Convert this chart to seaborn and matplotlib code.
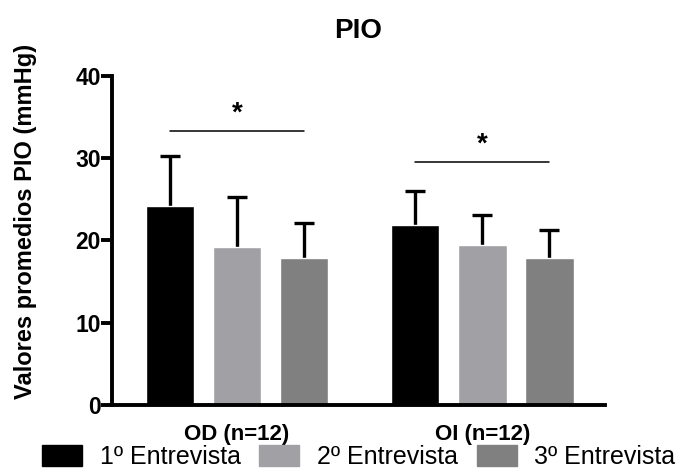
import matplotlib
matplotlib.use("Agg")
import matplotlib.pyplot as plt
import pandas as pd
import seaborn as sns

groups = ["OD (n=12)", "OI (n=12)"]
visits = ["1º Entrevista", "2º Entrevista", "3º Entrevista"]
means_od = [24.2, 19.2, 17.8]
means_oi = [21.9, 19.4, 17.8]
sd_od = [6.1, 6.0, 4.3]
sd_oi = [4.1, 3.7, 3.5]
sig_y = [33.3, 29.5]

palette = {
    "1º Entrevista": "#000000",
    "2º Entrevista": "#a1a1a5",
    "3º Entrevista": "#808080",
}

rows = []
for g, ms, ss in [(groups[0], means_od, sd_od), (groups[1], means_oi, sd_oi)]:
    for v, m, s in zip(visits, ms, ss):
        rows.append({"Grupo": g, "Entrevista": v, "PIO": m, "SD": s})
df = pd.DataFrame(rows)

sns.set_style("ticks")
plt.rcParams["font.family"] = ["Liberation Sans", "DejaVu Sans"]
for key in ["text.color", "axes.labelcolor", "xtick.color", "ytick.color", "axes.edgecolor"]:
    plt.rcParams[key] = "black"

fig = plt.figure(figsize=(6.86, 4.73), dpi=100)
ax = fig.add_axes([0.163, 0.144, 0.719, 0.696])

sns.barplot(
    data=df,
    x="Grupo",
    y="PIO",
    hue="Entrevista",
    palette=palette,
    width=0.82,
    gap=0.28,
    errorbar=None,
    saturation=1,
    ax=ax,
)

# upper-only SD bars; patches sorted by x follow df row order (group, visit)
bars = sorted([p for p in ax.patches if p.get_height() > 0], key=lambda p: p.get_x())
xs = [p.get_x() + p.get_width() / 2 for p in bars]
hs = [p.get_height() for p in bars]
sds = list(df["SD"])
eb = ax.errorbar(xs, hs, yerr=[[0] * len(sds), sds], fmt="none", ecolor="black",
                 elinewidth=2.4, capsize=7.5, capthick=2.4, zorder=1)
caps = eb.lines[1]
caps[0].set_visible(False)
for p in bars:
    p.set_zorder(2)

# significance brackets
for i, y in enumerate(sig_y):
    x0, x1 = xs[3 * i], xs[3 * i + 2]
    ax.plot([x0, x1], [y, y], color="black", lw=1.1)
    ax.text((x0 + x1) / 2, y + 0.5, "*", ha="center", va="bottom",
            fontsize=20, fontweight="bold")

ax.set_ylim(0, 40)
ax.set_xlim(-0.51, 1.5)
ax.set_yticks([0, 10, 20, 30, 40])
ax.set_xlabel("")
ax.set_ylabel("Valores promedios PIO (mmHg)", fontsize=17, fontweight="bold")
ax.yaxis.set_label_coords(-0.152, 0.556)
ax.set_title("PIO", fontsize=20, fontweight="bold", pad=27)
for lab in ax.get_yticklabels():
    lab.set_fontweight("bold")
    lab.set_fontsize(16.5)
for lab in ax.get_xticklabels():
    lab.set_fontweight("bold")
    lab.set_fontsize(16)
ax.tick_params(axis="y", length=8, width=2.8, pad=0, colors="black")
ax.tick_params(axis="x", length=0, pad=14, colors="black")
sns.despine(ax=ax)
ax.spines["left"].set_linewidth(2.8)
ax.spines["bottom"].set_linewidth(2.8)

ax.legend_.remove()
handles = [plt.Rectangle((0, 0), 1, 1, color=palette[v]) for v in visits]
fig.legend(handles, visits, loc="center left", bbox_to_anchor=(42 / 686, 1 - 457 / 473),
           ncol=3, frameon=False, fontsize=18, handlelength=1.6, handleheight=0.95,
           handletextpad=0.7, columnspacing=0.75, borderpad=0, borderaxespad=0)

fig.savefig("out.png", dpi=100)
